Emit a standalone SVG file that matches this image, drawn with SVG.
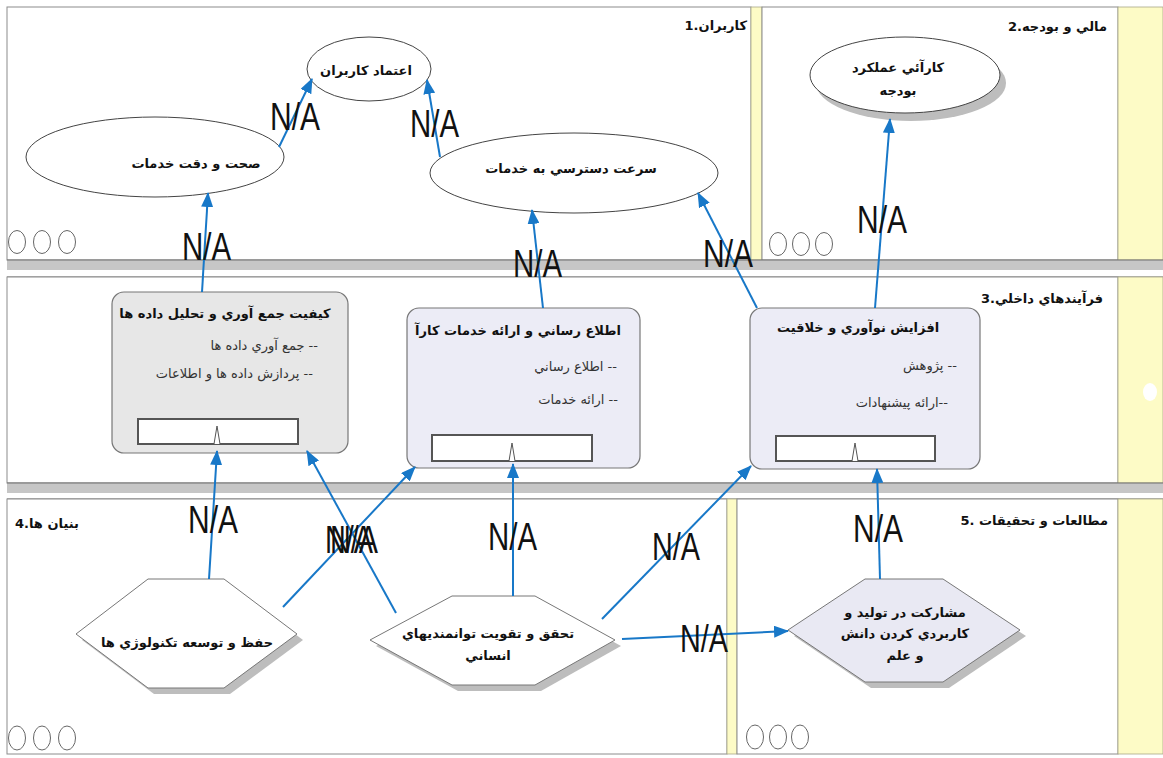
<svg xmlns="http://www.w3.org/2000/svg" width="1163" height="758" viewBox="0 0 1163 758">
<style>
.lane{fill:#fff;stroke:#8c8c8c;stroke-width:1}
.yel{fill:#fdfbc6;stroke:#a8a888;stroke-width:0.8}
.sepband{fill:#c6c6c6}
.sepline{stroke:#6e6e6e;stroke-width:1.2}
.dot{fill:none;stroke:#666;stroke-width:1}
.ell{fill:#fff;stroke:#444;stroke-width:1}
.shadow{fill:#bdbdbd}
.box1{fill:#e7e7e7;stroke:#777;stroke-width:1.2}
.box2{fill:#ececf6;stroke:#777;stroke-width:1.2}
.inner{fill:#fff;stroke:#555;stroke-width:2}
.peak{fill:#fff;stroke:#555;stroke-width:1}
.hexw{fill:#fff;stroke:#777;stroke-width:1}
.hexl{fill:#e9e9f3;stroke:#777;stroke-width:1}
.conn{fill:none;stroke:#1878c8;stroke-width:2;marker-end:url(#ah)}
.na{font-family:"Liberation Sans",Arial,sans-serif;font-size:38px;fill:#111}
.t{font-family:"DejaVu Sans",sans-serif;font-weight:bold;font-size:13px;fill:#111;text-anchor:middle}
.lt{font-family:"DejaVu Sans",sans-serif;font-weight:bold;font-size:13px;fill:#111}
.sub{font-family:"DejaVu Sans",sans-serif;font-size:13px;fill:#333;text-anchor:end}
</style>
<defs>
<marker id="ah" markerUnits="userSpaceOnUse" markerWidth="15" markerHeight="12" refX="14" refY="6" orient="auto">
<path d="M0,0 L15,6 L0,12 z" fill="#1878c8"/>
</marker>
</defs>
<rect width="1163" height="758" fill="#fff"/>
<g id="lanes">
<rect class="lane" x="7" y="7" width="744" height="253"/>
<rect class="yel" x="751" y="7" width="11" height="253"/>
<rect class="lane" x="762" y="7" width="356" height="253"/>
<rect class="yel" x="1118" y="7" width="45" height="253"/>
<rect class="sepband" x="7" y="260" width="1156" height="10"/>
<line class="sepline" x1="7" y1="260" x2="1163" y2="260"/>
<line class="sepline" x1="7" y1="277" x2="1163" y2="277"/>
<rect class="lane" x="7" y="277" width="1111" height="206"/>
<rect class="yel" x="1118" y="277" width="45" height="206"/>
<ellipse cx="1150" cy="392" rx="7" ry="9" fill="#fff"/>
<rect class="sepband" x="7" y="483" width="1156" height="10"/>
<line class="sepline" x1="7" y1="483" x2="1163" y2="483"/>
<line class="sepline" x1="7" y1="499" x2="1163" y2="499"/>
<rect class="lane" x="7" y="499" width="720" height="255"/>
<rect class="yel" x="727" y="499" width="10" height="255"/>
<rect class="lane" x="737" y="499" width="381" height="255"/>
<rect class="yel" x="1118" y="499" width="45" height="255"/>
<text class="lt" x="747" y="30" text-anchor="end">1.کاربران</text>
<text class="lt" x="1107" y="31" text-anchor="end">2.مالي و بودجه</text>
<text class="lt" x="1103" y="303" text-anchor="end">3.فرآيندهاي داخلي</text>
<text class="lt" x="15" y="528">4.بنيان ها</text>
<text class="lt" x="1108" y="525" text-anchor="end">5. مطالعات و تحقيقات</text>
<g class="dot">
<ellipse cx="17" cy="242" rx="8.5" ry="11.5"/><ellipse cx="42" cy="242" rx="8.5" ry="11.5"/><ellipse cx="67" cy="242" rx="8.5" ry="11.5"/>
<ellipse cx="778" cy="244" rx="8.5" ry="11.5"/><ellipse cx="801" cy="244" rx="8.5" ry="11.5"/><ellipse cx="824" cy="244" rx="8.5" ry="11.5"/>
<ellipse cx="17" cy="738" rx="8.5" ry="12"/><ellipse cx="42" cy="738" rx="8.5" ry="12"/><ellipse cx="67" cy="738" rx="8.5" ry="12"/>
<ellipse cx="755" cy="737" rx="8.5" ry="12"/><ellipse cx="778" cy="737" rx="8.5" ry="12"/><ellipse cx="800" cy="737" rx="8.5" ry="12"/>
</g>
</g>
<g id="n-etemad">
<ellipse class="ell" cx="369" cy="69" rx="62" ry="32"/>
<text class="t" x="366" y="75">اعتماد کاربران</text>
</g>
<g id="n-sehat">
<ellipse class="ell" cx="155" cy="157" rx="129" ry="40"/>
<text class="t" x="196" y="168">صحت و دقت خدمات</text>
</g>
<g id="n-sorat">
<ellipse class="ell" cx="574" cy="173" rx="144" ry="40"/>
<text class="t" x="571" y="173">سرعت دسترسي به خدمات</text>
</g>
<g id="n-karaei">
<ellipse class="shadow" cx="911" cy="83" rx="95" ry="38"/>
<ellipse class="ell" cx="905" cy="75" rx="95" ry="38"/>
<text class="t" x="898" y="72">کارآئي عملکرد</text>
<text class="t" x="898" y="95">بودجه</text>
</g>
<g id="n-box1">
<rect class="box1" x="112" y="292" width="236" height="161" rx="12"/>
<text class="t" x="225" y="318">کيفيت جمع آوري و تحليل داده ها</text>
<text class="sub" x="318" y="350">جمع آوري داده ها --</text>
<text class="sub" x="313" y="378">پردازش داده ها و اطلاعات --</text>
<rect class="inner" x="138" y="419" width="160" height="25"/>
<path class="peak" d="M214,444 L217,426 L220,444"/>
</g>
<g id="n-box2">
<rect class="box2" x="407" y="308" width="233" height="160" rx="12"/>
<text class="t" x="518" y="335">اطلاع رساني و ارائه خدمات کارآ</text>
<text class="sub" x="617" y="371">اطلاع رساني --</text>
<text class="sub" x="618" y="404">ارائه خدمات --</text>
<rect class="inner" x="432" y="435" width="160" height="26"/>
<path class="peak" d="M509,461 L512,443 L515,461"/>
</g>
<g id="n-box3">
<rect class="box2" x="750" y="308" width="230" height="161" rx="12"/>
<text class="t" x="858" y="332">افزايش نوآوري و خلاقيت</text>
<text class="sub" x="957" y="370">پژوهش --</text>
<text class="sub" x="948" y="407">ارائه پيشنهادات--</text>
<rect class="inner" x="776" y="436" width="159" height="25"/>
<path class="peak" d="M852,461 L855,443 L858,461"/>
</g>
<g id="n-hex1">
<polygon class="shadow" points="82,640 154,585 230,585 303,640 230,694 154,694"/>
<polygon class="hexw" points="76,634 148,579 224,579 297,634 224,688 148,688"/>
<text class="t" x="187" y="647">حفظ و توسعه تکنولوژي ها</text>
</g>
<g id="n-hex2">
<polygon class="shadow" points="376,646 458,602 541,602 621,646 541,691 458,691"/>
<polygon class="hexw" points="370,640 452,596 535,596 615,640 535,685 452,685"/>
<text class="t" x="488" y="638">تحقق و تقويت توانمنديهاي</text>
<text class="t" x="488" y="660">انساني</text>
</g>
<g id="n-hex3">
<polygon class="shadow" points="794,636 871,585 949,585 1026,636 949,688 871,688"/>
<polygon class="hexl" points="788,630 865,579 943,579 1020,630 943,682 865,682"/>
<text class="t" x="905" y="617">مشارکت در توليد و</text>
<text class="t" x="905" y="638">کاربردي کردن دانش</text>
<text class="t" x="905" y="660">و علم</text>
</g>
<g id="connectors">
<line class="conn" x1="202" y1="292" x2="208" y2="193"/>
<line class="conn" x1="279" y1="147" x2="312" y2="79"/>
<line class="conn" x1="440" y1="157" x2="427" y2="80"/>
<line class="conn" x1="543" y1="308" x2="532" y2="210"/>
<line class="conn" x1="757" y1="308" x2="698" y2="193"/>
<line class="conn" x1="875" y1="308" x2="890" y2="119"/>
<line class="conn" x1="209" y1="579" x2="217" y2="451"/>
<line class="conn" x1="283" y1="607" x2="415" y2="467"/>
<line class="conn" x1="396" y1="613" x2="307" y2="451"/>
<line class="conn" x1="513" y1="596" x2="513" y2="464"/>
<line class="conn" x1="602" y1="619" x2="751" y2="466"/>
<line class="conn" x1="622" y1="639" x2="788" y2="631"/>
<line class="conn" x1="880" y1="579" x2="877" y2="469"/>
<g>
<text class="na" x="270" y="130" textLength="50" lengthAdjust="spacingAndGlyphs">N/A</text>
<text class="na" x="182" y="260" textLength="49" lengthAdjust="spacingAndGlyphs">N/A</text>
<text class="na" x="410" y="137" textLength="49" lengthAdjust="spacingAndGlyphs">N/A</text>
<text class="na" x="513" y="277" textLength="49" lengthAdjust="spacingAndGlyphs">N/A</text>
<text class="na" x="703" y="267" textLength="50" lengthAdjust="spacingAndGlyphs">N/A</text>
<text class="na" x="857" y="233" textLength="50" lengthAdjust="spacingAndGlyphs">N/A</text>
<text class="na" x="188" y="533" textLength="50" lengthAdjust="spacingAndGlyphs">N/A</text>
<text class="na" x="325" y="553" textLength="48" lengthAdjust="spacingAndGlyphs">N/A</text>
<text class="na" x="330" y="553" textLength="48" lengthAdjust="spacingAndGlyphs">N/A</text>
<text class="na" x="488" y="550" textLength="49" lengthAdjust="spacingAndGlyphs">N/A</text>
<text class="na" x="652" y="560" textLength="48" lengthAdjust="spacingAndGlyphs">N/A</text>
<text class="na" x="680" y="652" textLength="48" lengthAdjust="spacingAndGlyphs">N/A</text>
<text class="na" x="853" y="542" textLength="50" lengthAdjust="spacingAndGlyphs">N/A</text>
</g>
</g>
</svg>
